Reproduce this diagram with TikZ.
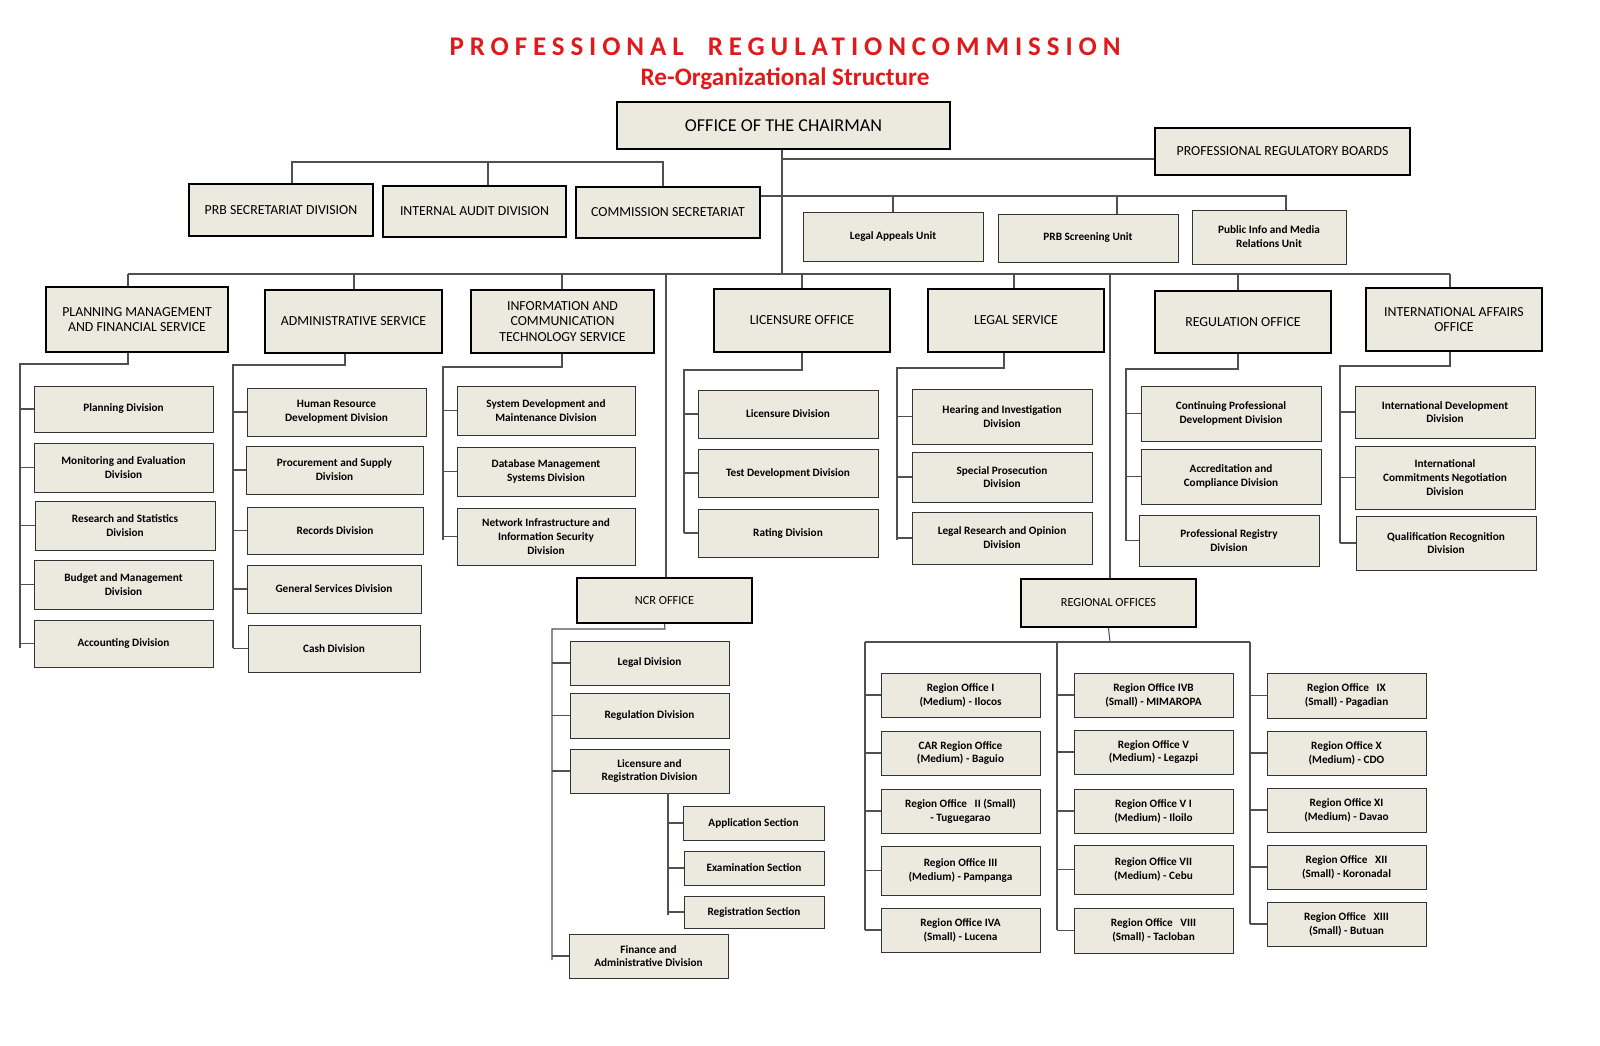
\documentclass[tikz,border=0pt]{standalone}
\usepackage{fontspec}
\setmainfont{Carlito}
\definecolor{bfill}{HTML}{ECE9DF}
\definecolor{ttl}{HTML}{E01A1A}
\definecolor{ln}{HTML}{505050}
\tikzset{
 box/.style={draw=black,fill=bfill,align=center,inner sep=1pt,font=\fontsize{9.6}{11.8}\bfseries},
 thin/.style={line width=0.8pt,draw=black!80},
 thick/.style={line width=2pt,font=\fontsize{11.8}{13.5}\selectfont},
 con/.style={draw=ln,line width=0.9pt},
}
\newcommand\bx[7][thin]{\node[box,#1,minimum width={(#5-#3)*0.03cm},minimum height={(#6-#4)*0.03cm}] (#2) at ({(#3+#5)/2},{(#4+#6)/2}) {#7};}
\begin{document}
\begin{tikzpicture}[x=0.03cm,y=-0.03cm]
\useasboundingbox (0,0) rectangle (1600,1046);
\node[text=ttl,font=\fontsize{23}{26}\bfseries\addfontfeature{LetterSpace=22}] (t1) at (785,47) {PROFESSIONAL\ \ REGULATIONCOMMISSION};
\node[text=ttl,font=\fontsize{21.5}{24}\bfseries] (t2) at (785,79) {Re-Organizational Structure};
% top
\bx[thick,font=\fontsize{15.5}{17}\selectfont]{chair}{617}{102}{950}{149}{OFFICE OF THE CHAIRMAN}
\bx[thick]{prb}{1155}{128}{1410}{175}{PROFESSIONAL REGULATORY BOARDS}
\bx[thick]{prbsec}{189}{184}{373}{236}{PRB SECRETARIAT DIVISION}
\bx[thick]{iad}{383}{186}{566}{237}{INTERNAL AUDIT DIVISION}
\bx[thick]{csec}{576}{187}{760}{238}{COMMISSION SECRETARIAT}
\bx{lau}{803}{212}{983}{261}{Legal Appeals Unit}
\bx{psu}{998}{214}{1178}{262}{PRB Screening Unit}
\bx{pim}{1192}{210}{1346}{264}{Public Info and Media\\Relations Unit}
% services
\bx[thick]{pms}{46}{287}{228}{352}{PLANNING MANAGEMENT\\AND FINANCIAL SERVICE}
\bx[thick]{ads}{265}{290}{442}{353}{ADMINISTRATIVE SERVICE}
\bx[thick]{ict}{471}{290}{654}{353}{INFORMATION AND\\COMMUNICATION\\TECHNOLOGY SERVICE}
\bx[thick]{lic}{714}{289}{890}{352}{LICENSURE OFFICE}
\bx[thick]{lgs}{928}{289}{1104}{352}{LEGAL SERVICE}
\bx[thick]{reg}{1155}{291}{1331}{353}{REGULATION OFFICE}
\bx[thick]{int}{1366}{288}{1542}{351}{INTERNATIONAL AFFAIRS\\OFFICE}
% planning
\bx{p1}{34}{386}{213}{432}{Planning Division}
\bx{p2}{34}{443}{213}{492}{Monitoring and Evaluation\\Division}
\bx{p3}{35}{501}{215}{550}{Research and Statistics\\Division}
\bx{p4}{34}{560}{213}{609}{Budget and Management\\Division}
\bx{p5}{34}{620}{213}{667}{Accounting Division}
% admin
\bx{a1}{247}{388}{426}{436}{Human Resource\\Development Division}
\bx{a2}{246}{446}{423}{494}{Procurement and Supply\\Division}
\bx{a3}{247}{507}{423}{554}{Records Division}
\bx{a4}{247}{565}{421}{613}{General Services Division}
\bx{a5}{248}{625}{420}{672}{Cash Division}
% ict
\bx{i1}{457}{386}{635}{435}{System Development and\\Maintenance Division}
\bx{i2}{457}{447}{635}{496}{Database Management\\Systems Division}
\bx{i3}{457}{508}{635}{565}{Network Infrastructure and\\Information Security\\Division}
% licensure
\bx{l1}{698}{390}{878}{438}{Licensure Division}
\bx{l2}{698}{449}{878}{497}{Test Development Division}
\bx{l3}{698}{509}{878}{557}{Rating Division}
% legal
\bx{g1}{912}{389}{1092}{444}{Hearing and Investigation\\Division}
\bx{g2}{912}{452}{1092}{502}{Special Prosecution\\Division}
\bx{g3}{912}{512}{1092}{564}{Legal Research and Opinion\\Division}
% regulation
\bx{r1}{1141}{386}{1321}{441}{Continuing Professional\\Development Division}
\bx{r2}{1141}{449}{1321}{504}{Accreditation and\\Compliance Division}
\bx{r3}{1139}{515}{1319}{566}{Professional Registry\\Division}
% international
\bx{n1}{1355}{386}{1535}{438}{International Development\\Division}
\bx{n2}{1355}{446}{1535}{509}{International\\Commitments Negotiation\\Division}
\bx{n3}{1356}{516}{1536}{570}{Qualification Recognition\\Division}
% NCR
\bx[thick,font=\fontsize{10.5}{12}\selectfont]{ncr}{577}{578}{752}{623}{NCR OFFICE}
\bx{c1}{570}{641}{729}{685}{Legal Division}
\bx{c2}{570}{693}{729}{738}{Regulation Division}
\bx{c3}{570}{749}{729}{793}{Licensure and\\Registration Division}
\bx{s1}{683}{806}{824}{840}{Application Section}
\bx{s2}{684}{851}{824}{885}{Examination Section}
\bx{s3}{684}{896}{824}{928}{Registration Section}
\bx{c4}{569}{934}{728}{978}{Finance and\\Administrative Division}
% regional
\bx[thick,font=\fontsize{10.5}{12}\selectfont]{rgo}{1021}{579}{1196}{627}{REGIONAL OFFICES}
\bx{x1}{881}{673}{1040}{717}{Region Office I\\(Medium) - Ilocos}
\bx{x2}{881}{731}{1040}{775}{CAR Region Office\\(Medium) - Baguio}
\bx{x3}{881}{789}{1040}{833}{Region Office\ \ \ II (Small)\\- Tuguegarao}
\bx{x4}{881}{846}{1040}{895}{Region Office III\\(Medium) - Pampanga}
\bx{x5}{881}{908}{1040}{952}{Region Office IVA\\(Small) - Lucena}
\bx{y1}{1074}{673}{1233}{717}{Region Office IVB\\(Small) - MIMAROPA}
\bx{y2}{1074}{730}{1233}{774}{Region Office V\\(Medium) - Legazpi}
\bx{y3}{1074}{789}{1233}{833}{Region Office V I\\(Medium) - Iloilo}
\bx{y4}{1074}{845}{1233}{894}{Region Office VII\\(Medium) - Cebu}
\bx{y5}{1074}{908}{1233}{953}{Region Office\ \ \ VIII\\(Small) - Tacloban}
\bx{z1}{1267}{673}{1426}{718}{Region Office\ \ \ IX\\(Small) - Pagadian}
\bx{z2}{1267}{731}{1426}{775}{Region Office X\\(Medium) - CDO}
\bx{z3}{1267}{788}{1426}{832}{Region Office XI\\(Medium) - Davao}
\bx{z4}{1267}{845}{1426}{889}{Region Office\ \ \ XII\\(Small) - Koronadal}
\bx{z5}{1267}{902}{1426}{946}{Region Office\ \ \ XIII\\(Small) - Butuan}
% ---- connectors
\begin{scope}[con]
\coordinate (bus) at (782,274);
\draw (chair.south -| bus) -- (bus);
\draw (prb.west |- 0,159) -- (782,159);
\coordinate (lg) at (292,162);
\draw (prbsec.north -| lg) -- (lg) -- (663,162) -- (csec.north -| 663,0);
\draw (iad.north -| 488,0) -- (488,162);
\draw (csec.east |- 0,196) -- (1286,196) -- (pim.north -| 1286,0);
\draw (lau.north -| 893,0) -- (893,196);
\draw (psu.north -| 1117,0) -- (1117,196);
\draw (128,274) -- (1450,274);
\foreach \n/\x in {pms/128,ads/354,ict/562,lic/802,lgs/1014,reg/1238,int/1450}
  \draw (\x,274) -- (\n.north -| \x,0);
\draw (666,274) -- (ncr.north -| 666,0);
\draw (1110,274) -- (rgo.north -| 1110,0);
% service spines
\foreach \n/\cx/\sy/\sx/\ey/\list in {
  pms/128/364/20/648/{p1,p2,p3,p4,p5},
  ads/345/365/233/648/{a1,a2,a3,a4,a5},
  ict/562/367/443/540/{i1,i2,i3},
  lic/802/370/684/533/{l1,l2,l3},
  lgs/1004/368/897/540/{g1,g2,g3},
  reg/1238/369/1126/541/{r1,r2,r3},
  int/1450/366/1340/543/{n1,n2,n3}} {
  \draw (\n.south -| \cx,0) -- (\cx,\sy) -- (\sx,\sy) -- (\sx,\ey);
  \foreach \b in \list { \draw (\b.west) -- (\b.west -| \sx,0); }
}
% NCR
\draw (ncr.south) -- (665,629) -- (552,629) -- (552,960);
\foreach \b in {c1,c2,c4} \draw (\b.west) -- (\b.west -| 552,0);
\draw (c3.west) -- (c3.west -| 552,0);
\draw (c3.south -| 668,0) -- (668,915);
\foreach \b in {s1,s2,s3} \draw (\b.west) -- (\b.west -| 668,0);
% regional
\draw (rgo.south) -- (1110,642);
\draw (865,642) -- (1250,642);
\draw (865,642) -- (865,930);
\draw (1057,642) -- (1057,930);
\draw (1250,642) -- (1250,924);
\foreach \b in {x1,x2,x3,x4,x5} \draw (\b.west) -- (\b.west -| 865,0);
\foreach \b in {y1,y2,y3,y4,y5} \draw (\b.west) -- (\b.west -| 1057,0);
\foreach \b in {z1,z2,z3,z4,z5} \draw (\b.west) -- (\b.west -| 1250,0);
\end{scope}
\end{tikzpicture}
\end{document}
